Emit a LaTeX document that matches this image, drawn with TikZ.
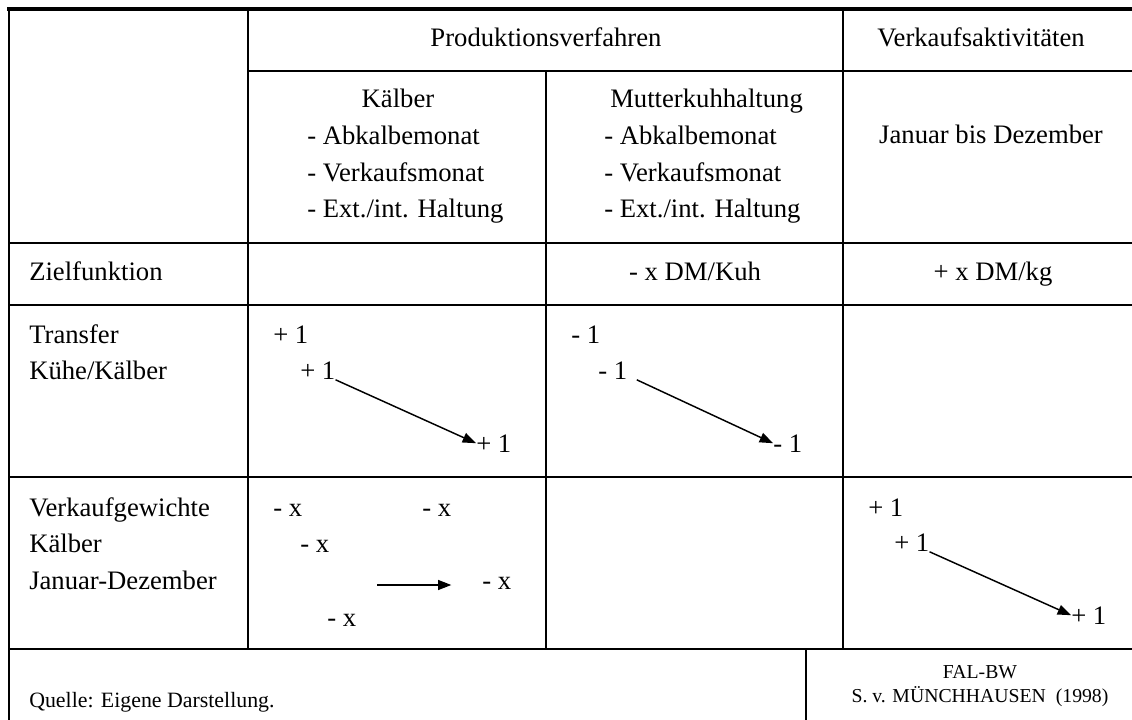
\documentclass[tikz,border=0pt]{standalone}
\usepackage{fontspec}
\setmainfont{Liberation Serif}
\usetikzlibrary{arrows.meta}
\begin{document}
\begin{tikzpicture}[x=0.75pt,y=-0.75pt,
  grid/.style={line width=2.2pt},
  thinline/.style={line width=0.8pt},
  txt/.style={inner sep=0pt, font=\fontsize{20}{24}\selectfont, text height=0.68em, text depth=0pt},
  lt/.style={txt, anchor=west},
  ct/.style={txt, anchor=center},
  foot/.style={inner sep=0pt, font=\fontsize{16.4}{20}\selectfont, anchor=west},
  footr/.style={inner sep=0pt, font=\fontsize{14.8}{18}\selectfont, anchor=center},
  arr/.style={line width=1.1pt, -{Triangle[length=10pt,width=7.5pt]}}]
\useasboundingbox (0,0) rectangle (1132,720);
% grid
\draw[line width=3pt] (7,9) -- (1132,9);
\draw[grid] (9,8) -- (9,720);
\draw[grid] (248,9) -- (248,649);
\draw[grid] (248,71) -- (1132,71);
\draw[grid] (546,71) -- (546,649);
\draw[grid] (843,9) -- (843,649);
\draw[grid] (9,243) -- (1132,243);
\draw[grid] (9,305) -- (1132,305);
\draw[grid] (9,477) -- (1132,477);
\draw[grid] (9,649) -- (1132,649);
\draw[thinline] (806,649) -- (806,720);
% header
\node[ct] (hprod) at (546,42) {Produktionsverfahren};
\node[ct] (hverk) at (981,42) {Verkaufsaktivitäten};
\node[ct] (kh) at (398,103) {Kälber};
\node[lt] (k1) at (307,140) {- Abkalbemonat};
\node[lt] (k2) at (307,177) {- Verkaufsmonat};
\node[lt] (k3) at (307,213) {- Ext./int. Haltung};
\node[lt] (mh) at (610,103) {Mutterkuhhaltung};
\node[lt] (m1) at (604,140) {- Abkalbemonat};
\node[lt] (m2) at (604,177) {- Verkaufsmonat};
\node[lt] (m3) at (604,213) {- Ext./int. Haltung};
\node[ct] (jd) at (991,139) {Januar bis Dezember};
% Zielfunktion
\node[lt] (zf) at (29,276) {Zielfunktion};
\node[ct] (zk) at (695,276) {- x DM/Kuh};
\node[ct] (zg) at (993,276) {+ x DM/kg};
% Transfer
\node[lt] (tr1) at (29,339) {Transfer};
\node[lt] (tr2) at (29,375) {Kühe/Kälber};
\node[lt] (a1) at (273,339) {+ 1};
\node[lt] (a2) at (300,375) {+ 1};
\node[lt] (a3) at (476,448) {+ 1};
\node[lt] (b1) at (571,339) {- 1};
\node[lt] (b2) at (598,375) {- 1};
\node[lt] (b3) at (773,448) {- 1};
\draw[arr] (a2.south east) -- (a3.north west);
\draw[arr] ([xshift=7pt]b2.south east) -- (b3.north west);
% Verkaufgewichte
\node[lt] (v1) at (29,512) {Verkaufgewichte};
\node[lt] (v2) at (29,548) {Kälber};
\node[lt] (v3) at (29,585) {Januar-Dezember};
\node[lt] (x1) at (273,512) {- x};
\node[lt] (x2) at (422,512) {- x};
\node[lt] (x3) at (300,548) {- x};
\node[lt] (x4) at (482,585) {- x};
\node[lt] (x5) at (327,622) {- x};
\coordinate (h0) at (377,585);
\draw[arr] (h0) -- ([xshift=-23pt]x4.west);
\node[lt] (c1) at (868,512) {+ 1};
\node[lt] (c2) at (894,547) {+ 1};
\node[lt] (c3) at (1071,620) {+ 1};
\draw[arr] (c2.south east) -- (c3.north west);
% footer
\node[foot] (q) at (29,702) {Quelle: Eigene Darstellung.};
\node[footr] (f1) at (980,672) {FAL-BW};
\node[footr] (f2) at (980,697) {S. v. MÜNCHHAUSEN\ \ (1998)};
\end{tikzpicture}
\end{document}
